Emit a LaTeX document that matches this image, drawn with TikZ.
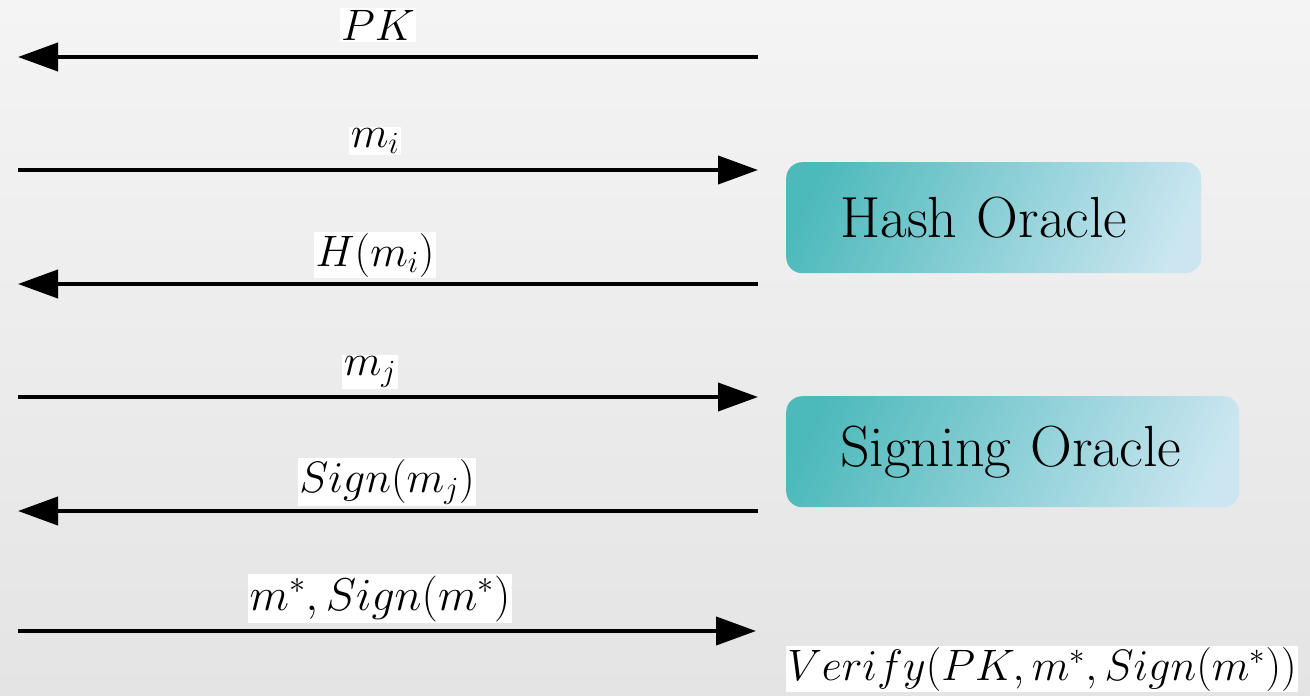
\RequirePackage{fix-cm}
\documentclass[tikz,border=0pt]{standalone}
\usetikzlibrary{arrows.meta}
\definecolor{oraclel}{HTML}{4CB9BB}
\definecolor{oracler}{HTML}{CBE6F1}
\definecolor{bgtop}{HTML}{F4F4F4}
\definecolor{bgbot}{HTML}{E4E4E4}
\pgfdeclarehorizontalshading{oshade}{100bp}{color(0bp)=(oraclel); color(22bp)=(oraclel); color(78bp)=(oracler); color(100bp)=(oracler)}
\tikzset{
  msg/.style={line width=4pt, -{Triangle[length=40pt,width=28pt]}},
  lbl/.style={fill=white, inner sep=1.5pt, anchor=base, font=\fontsize{44}{52}\selectfont},
  oracle/.style={anchor=north west, rounded corners=16pt, shading=oshade,
    shading angle=-25, inner xsep=54pt, align=left, minimum height=111pt,
    font=\fontsize{58}{66}\selectfont}
}
\begin{document}
\begin{tikzpicture}[x=1pt,y=-1pt]
\shade[top color=bgtop, bottom color=bgbot] (0,0) rectangle (1310,696);
\useasboundingbox (0,0) rectangle (1310,696);
% endpoints
\foreach \i/\y in {1/57,2/170,3/284,4/397,5/511}{
  \coordinate (L\i) at (18,\y);
  \coordinate (R\i) at (758,\y);
}
\coordinate (L6) at (18,631);
\coordinate (R6) at (756,631);
% arrows
\draw[msg] (R1) -- (L1);
\draw[msg] (L2) -- (R2);
\draw[msg] (R3) -- (L3);
\draw[msg] (L4) -- (R4);
\draw[msg] (R5) -- (L5);
\draw[msg] (L6) -- (R6);
% labels
\node[lbl] (t1) at (378,40) {$PK$};
\node[lbl] (t2) at (375,147) {$m_i$};
\node[lbl] (t3) at (375,266) {$H(m_i)$};
\node[lbl] (t4) at (370,375) {$m_j$};
\node[lbl] (t5) at (387,492) {$Sign(m_j)$};
\node[lbl, font=\fontsize{46}{54}\selectfont] (t6) at (380,610) {$m^{*},Sign(m^{*})$};
\node[lbl] (t7) at (1042,680) {$Verify(PK,m^{*},Sign(m^{*}))$};
% oracles
\node[oracle, text width=307pt] (hash) at (786,162) {Hash Oracle};
\node[oracle, text width=345pt] (sign) at (786,396) {Signing Oracle};
\end{tikzpicture}
\end{document}
